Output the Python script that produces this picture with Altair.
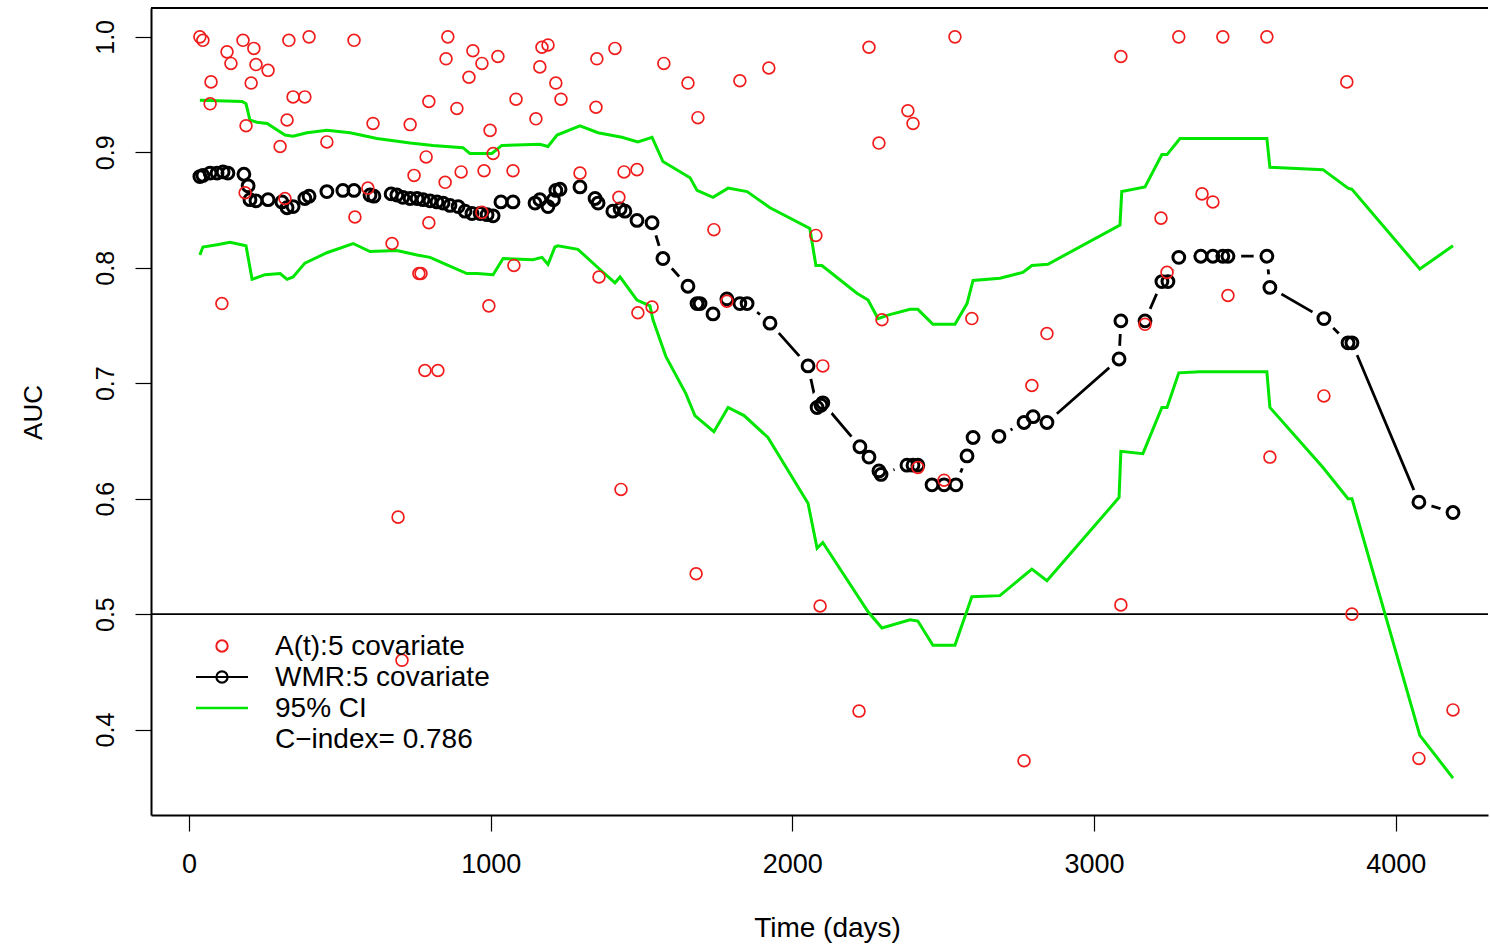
import altair as alt
import pandas as pd

# ---- A(t): 5 covariate (red open circles) ----
at_time = [36, 46, 179, 126, 215, 331, 398, 547, 139, 222, 262, 73, 206, 345, 384, 70,
           189, 325, 610, 733, 302, 457, 795, 888, 858, 852, 941, 971, 928, 1024, 998,
           1008, 786, 902, 978, 746, 849, 186, 318, 593, 550, 795, 971, 673, 762, 769,
           109, 994, 1170, 1190, 1163, 1216, 1233, 1084, 1150, 1352, 1412, 1349, 1574,
           1654, 1687, 1826, 1922, 1074, 1296, 1442, 1485, 1425, 1740, 2078, 1077, 1359,
           1488, 1535, 1783, 2254, 2539, 3089, 2383, 2400, 2287, 2297, 2595, 3281, 3427,
           3573, 3838, 3358, 3394, 3222, 3242, 3444, 2844, 2101, 2794, 2416, 2503, 3169,
           3762, 3583, 3855, 4190, 4077, 782, 825, 1432, 693, 1681, 2092, 706, 2221, 2768,
           3089]
at_auc = [1.000, 0.997, 0.997, 0.987, 0.990, 0.997, 1.000, 0.997, 0.977, 0.976, 0.971,
          0.961, 0.960, 0.948, 0.948, 0.942, 0.923, 0.928, 0.925, 0.924, 0.905, 0.909,
          0.944, 0.938, 1.000, 0.981, 0.988, 0.977, 0.965, 0.983, 0.919, 0.899, 0.896,
          0.883, 0.884, 0.880, 0.874, 0.865, 0.860, 0.869, 0.844, 0.839, 0.848, 0.821,
          0.795, 0.795, 0.769, 0.767, 0.991, 0.993, 0.974, 0.960, 0.946, 0.946, 0.929,
          0.981, 0.990, 0.939, 0.977, 0.960, 0.930, 0.962, 0.973, 0.884, 0.882, 0.883,
          0.885, 0.861, 0.833, 0.828, 0.802, 0.792, 0.761, 0.766, 0.771, 0.991, 1.000,
          0.983, 0.936, 0.925, 0.908, 0.755, 0.756, 1.000, 1.000, 1.000, 0.961, 0.864,
          0.857, 0.843, 0.796, 0.776, 0.743, 0.715, 0.698, 0.627, 0.616, 0.751, 0.689,
          0.636, 0.500, 0.417, 0.375, 0.711, 0.711, 0.608, 0.584, 0.535, 0.507, 0.460,
          0.416, 0.373, 0.508]

# ---- WMR: 5 covariate (black circles joined by a line) ----
wmr_time = [36, 46, 70, 93, 113, 129, 182, 196, 202, 222, 262, 308, 325, 345, 384, 398,
            457, 510, 547, 600, 613, 670, 689, 709, 733, 756, 776, 799, 822, 842, 865, 892,
            915, 938, 965, 988, 1008, 1034, 1074, 1147, 1163, 1190, 1208, 1216, 1230, 1296,
            1346, 1356, 1405, 1429, 1445, 1485, 1535, 1571, 1654, 1684, 1694, 1737, 1783,
            1826, 1850, 1926, 2052, 2082, 2095, 2101, 2224, 2254, 2287, 2294, 2380, 2400,
            2416, 2463, 2503, 2542, 2579, 2599, 2685, 2768, 2798, 2844, 3083, 3089, 3169,
            3225, 3245, 3281, 3354, 3394, 3427, 3444, 3573, 3583, 3762, 3842, 3855, 4077,
            4190]
wmr_auc = [0.879, 0.880, 0.882, 0.882, 0.883, 0.882, 0.881, 0.871, 0.859, 0.858, 0.859,
           0.857, 0.852, 0.853, 0.860, 0.862, 0.866, 0.867, 0.867, 0.863, 0.862, 0.864,
           0.863, 0.861, 0.860, 0.860, 0.859, 0.858, 0.857, 0.856, 0.854, 0.853, 0.849,
           0.847, 0.847, 0.846, 0.845, 0.857, 0.857, 0.856, 0.859, 0.853, 0.859, 0.867,
           0.868, 0.870, 0.860, 0.856, 0.849, 0.851, 0.849, 0.841, 0.839, 0.808, 0.784,
           0.769, 0.769, 0.760, 0.773, 0.769, 0.769, 0.752, 0.715, 0.679, 0.681, 0.683,
           0.645, 0.636, 0.624, 0.621, 0.629, 0.629, 0.629, 0.612, 0.612, 0.612, 0.637,
           0.653, 0.654, 0.666, 0.671, 0.666, 0.721, 0.754, 0.754, 0.788, 0.788, 0.809,
           0.810, 0.810, 0.810, 0.810, 0.810, 0.783, 0.756, 0.735, 0.735, 0.597, 0.588]

# ---- 95% CI upper bound ----
up_time = [36, 176, 189, 202, 225, 259, 318, 345, 391, 457, 534, 623, 733, 809, 908, 931,
           1004, 1037, 1163, 1190, 1220, 1296, 1356, 1435, 1488, 1535, 1571, 1661, 1684,
           1737, 1787, 1850, 1926, 2058, 2078, 2098, 2214, 2251, 2284, 2317, 2390, 2416,
           2466, 2539, 2579, 2599, 2688, 2764, 2794, 2847, 3086, 3092, 3169, 3225, 3242,
           3285, 3351, 3573, 3583, 3759, 3842, 3855, 4080, 4190]
up_auc = [0.945, 0.944, 0.942, 0.928, 0.926, 0.925, 0.915, 0.914, 0.917, 0.919, 0.917,
          0.912, 0.908, 0.906, 0.904, 0.899, 0.899, 0.906, 0.907, 0.905, 0.915, 0.923,
          0.917, 0.913, 0.909, 0.913, 0.892, 0.878, 0.867, 0.861, 0.869, 0.866, 0.852,
          0.834, 0.802, 0.802, 0.778, 0.772, 0.756, 0.759, 0.764, 0.764, 0.751, 0.751,
          0.769, 0.789, 0.791, 0.796, 0.802, 0.803, 0.837, 0.866, 0.870, 0.898, 0.898,
          0.912, 0.912, 0.912, 0.887, 0.885, 0.869, 0.868, 0.799, 0.819]

# ---- 95% CI lower bound ----
lo_time = [36, 46, 93, 136, 189, 209, 252, 302, 325, 345, 384, 457, 544, 600, 689, 756,
           799, 842, 921, 955, 1008, 1041, 1140, 1170, 1190, 1213, 1223, 1289, 1356, 1412,
           1429, 1485, 1528, 1538, 1581, 1647, 1677, 1740, 1787, 1840, 1919, 2052, 2082,
           2101, 2251, 2297, 2390, 2416, 2466, 2539, 2595, 2688, 2794, 2844, 3083, 3089,
           3162, 3225, 3242, 3281, 3351, 3573, 3583, 3759, 3842, 3855, 4080, 4190]
lo_auc = [0.811, 0.818, 0.820, 0.822, 0.819, 0.790, 0.794, 0.795, 0.790, 0.792, 0.804,
          0.813, 0.821, 0.814, 0.815, 0.811, 0.809, 0.804, 0.795, 0.795, 0.794, 0.808,
          0.807, 0.809, 0.803, 0.818, 0.819, 0.816, 0.800, 0.787, 0.792, 0.772, 0.767,
          0.755, 0.723, 0.691, 0.672, 0.658, 0.679, 0.672, 0.653, 0.596, 0.557, 0.562,
          0.502, 0.488, 0.495, 0.494, 0.473, 0.473, 0.515, 0.516, 0.539, 0.529, 0.601,
          0.641, 0.639, 0.679, 0.679, 0.709, 0.710, 0.710, 0.679, 0.627, 0.600, 0.600,
          0.395, 0.358]

x_ticks = [0, 1000, 2000, 3000, 4000]
y_ticks = [0.4, 0.5, 0.6, 0.7, 0.8, 0.9, 1.0]
ref_level = 0.5
legend_labels = ["A(t):5 covariate", "WMR:5 covariate", "95% CI", "C\u2212index= 0.786"]

FONT = "Liberation Sans"
RED = "#f01c1c"
GREEN = "#00e600"
W, H = 1337, 807

xs = alt.Scale(domain=[-126, 4306], nice=False, zero=False)
ys = alt.Scale(domain=[0.326, 1.025], nice=False, zero=False)

x_axis = alt.Axis(values=x_ticks, format="d", title="Time (days)", grid=False,
                  domainColor="black", domainWidth=2, tickColor="black", tickWidth=1.2,
                  tickSize=16, labelFont=FONT, labelFontSize=27, labelColor="black",
                  labelPadding=20, labelFlush=False, labelOverlap=False,
                  titleFont=FONT, titleFontSize=28, titleFontWeight="normal",
                  titleColor="black", titleBaseline="alphabetic", titleY=121,
                  titleX=676, titleAlign="center")
y_axis = alt.Axis(values=y_ticks, format=".1f", title="AUC", grid=False,
                  domainColor="black", domainWidth=2, tickColor="black", tickWidth=1.2,
                  tickSize=16, labelFont=FONT, labelFontSize=25, labelColor="black",
                  labelAngle=270, labelAlign="center", labelBaseline="bottom",
                  labelPadding=17, labelFlush=False, labelOverlap=False,
                  titleFont=FONT, titleFontSize=26, titleFontWeight="normal",
                  titleColor="black", titleAngle=270, titleBaseline="alphabetic",
                  titleAlign="center", titleX=-110, titleY=404)

df_at = pd.DataFrame({"t": at_time, "auc": at_auc})
df_wmr = pd.DataFrame({"t": wmr_time, "auc": wmr_auc})
df_up = pd.DataFrame({"t": up_time, "auc": up_auc})
df_lo = pd.DataFrame({"t": lo_time, "auc": lo_auc})
one = pd.DataFrame({"k": [0]})

# axes carrier (invisible) drawn first
axes_layer = alt.Chart(df_at).mark_point(opacity=0, size=1).encode(
    x=alt.X("t:Q", scale=xs, axis=x_axis), y=alt.Y("auc:Q", scale=ys, axis=y_axis))

red_pts = alt.Chart(df_at).mark_point(
    shape="circle", filled=False, color=RED, size=140, strokeWidth=1.7, opacity=1
).encode(x=alt.X("t:Q", scale=xs), y=alt.Y("auc:Q", scale=ys))

hline = alt.Chart(one).mark_rule(color="black", strokeWidth=1.8).encode(
    y=alt.Y(datum=ref_level, type="quantitative", scale=ys))

top_frame = alt.Chart(one).mark_rule(color="black", strokeWidth=2).encode(y=alt.value(0))

def ci_line(df):
    return alt.Chart(df).mark_line(color=GREEN, strokeWidth=3).encode(
        x=alt.X("t:Q", scale=xs), y=alt.Y("auc:Q", scale=ys))

wmr_line = alt.Chart(df_wmr).mark_line(color="black", strokeWidth=2.8).encode(
    x=alt.X("t:Q", scale=xs), y=alt.Y("auc:Q", scale=ys))
wmr_gap = alt.Chart(df_wmr).mark_point(
    shape="circle", filled=True, color="white", size=700, opacity=1, strokeWidth=0
).encode(x=alt.X("t:Q", scale=xs), y=alt.Y("auc:Q", scale=ys))
wmr_pts = alt.Chart(df_wmr).mark_point(
    shape="circle", filled=False, color="black", size=140, strokeWidth=3, opacity=1
).encode(x=alt.X("t:Q", scale=xs), y=alt.Y("auc:Q", scale=ys))

# ---- manual legend (R style, no box) ----
leg_red = alt.Chart(one).mark_point(
    shape="circle", filled=False, color=RED, size=130, strokeWidth=2, opacity=1
).encode(x=alt.value(71), y=alt.value(638))
leg_black_line = alt.Chart(one).mark_rule(color="black", strokeWidth=2).encode(
    x=alt.value(45), x2=alt.value(97), y=alt.value(669))
leg_black_pt = alt.Chart(one).mark_point(
    shape="circle", filled=False, color="black", size=125, strokeWidth=2.2, opacity=1
).encode(x=alt.value(71), y=alt.value(669))
leg_green = alt.Chart(one).mark_rule(color=GREEN, strokeWidth=2.5).encode(
    x=alt.value(45), x2=alt.value(97), y=alt.value(700))
leg_texts = [
    alt.Chart(one).mark_text(align="left", baseline="middle", font=FONT, fontSize=28,
                             color="black").encode(
        x=alt.value(124), y=alt.value(639 + 31 * i), text=alt.value(lab))
    for i, lab in enumerate(legend_labels)
]

chart = alt.layer(
    axes_layer, hline, top_frame, ci_line(df_up), ci_line(df_lo), wmr_line, wmr_gap,
    wmr_pts, red_pts,
    leg_red, leg_black_line, leg_black_pt, leg_green, *leg_texts
).properties(
    width=W, height=H,
    autosize=alt.AutoSizeParams(type="none"),
    padding={"left": 151, "top": 8, "right": 2, "bottom": 133},
    background="white",
).configure_view(stroke=None)

chart.save("out.html", embed_options={"renderer": "svg", "actions": False})
